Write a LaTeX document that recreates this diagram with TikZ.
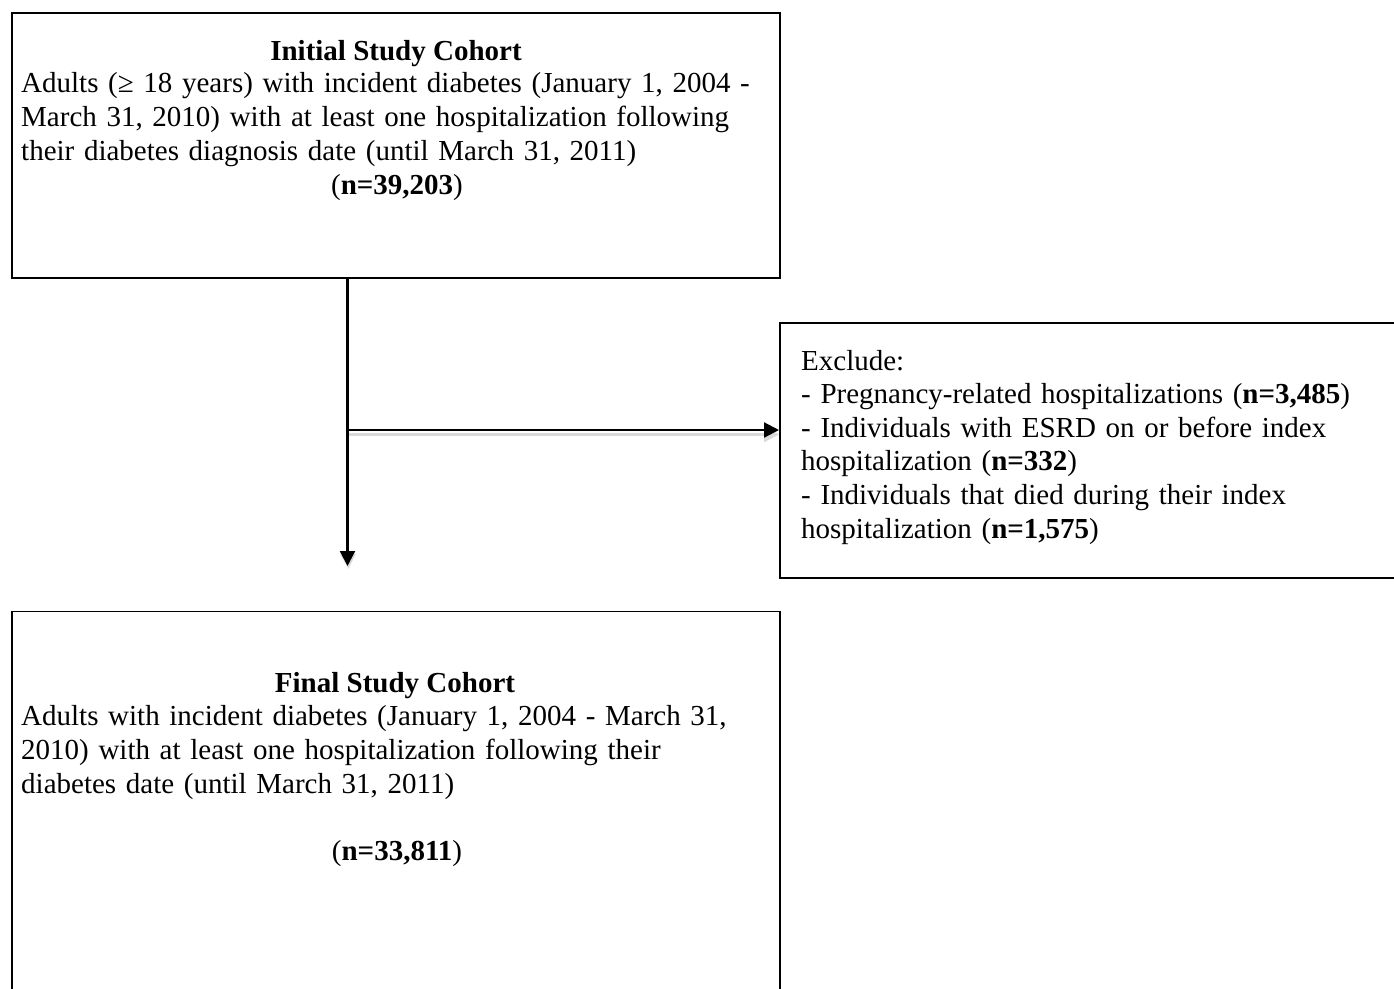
\documentclass[tikz,border=0pt]{standalone}
\usepackage{fontspec}
\setmainfont{Liberation Serif}
\usetikzlibrary{arrows.meta}
\begin{document}
\begin{tikzpicture}[x=1pt,y=-1pt,
  box/.style={draw, line width=1.6pt, inner sep=0pt, anchor=north west},
  txt/.style={inner sep=0pt, font=\fontsize{29}{34}\selectfont},
  body/.style={txt, anchor=base west, text width=1000pt, align=left},
  conn/.style={line width=2.2pt, -{Triangle[length=15pt,width=15pt]}},
  shade/.style={line width=2.2pt, draw=gray!30, fill=gray!30, -{Triangle[length=15pt,width=15pt]}}]
\useasboundingbox (0,0) rectangle (1394,988);
\clip (0,0) rectangle (1394,988);
% boxes
\node[box, minimum width=768pt, minimum height=265pt] (init) at (11,12) {};
\node[box, minimum width=660pt, minimum height=255pt] (excl) at (779,322) {};
\node[box, minimum width=768pt, minimum height=420pt] (final) at (11,610.5) {};
% texts of the initial box
\node[txt, anchor=base] (inittitle) at (396,60) {\textbf{Initial Study Cohort}};
\node[body] (initbody) at (21,92.5) {Adults (≥ 18 years) with incident diabetes (January 1, 2004 -\\
March 31, 2010) with at least one hospitalization following\\
their diabetes diagnosis date (until March 31, 2011)};
\node[txt, anchor=base] (initn) at (397,194.5) {(\textbf{n=39,203})};
% texts of the exclusion box
\node[body, font=\fontsize{29}{33.6}\selectfont] (excltext) at (801,370) {Exclude:\\
- Pregnancy-related hospitalizations (\textbf{n=3,485})\\
- Individuals with ESRD on or before index\\
hospitalization (\textbf{n=332})\\
- Individuals that died during their index\\
hospitalization (\textbf{n=1,575})};
% texts of the final box
\node[txt, anchor=base] (finaltitle) at (395,692) {\textbf{Final Study Cohort}};
\node[body] (finalbody) at (21,725) {Adults with incident diabetes (January 1, 2004 - March 31,\\
2010) with at least one hospitalization following their\\
diabetes date (until March 31, 2011)};
\node[txt, anchor=base] (finaln) at (397,860) {(\textbf{n=33,811})};
% connectors
\coordinate (top) at (347.5,0 |- init.south);
\coordinate (junction) at (347.5,430);
\coordinate (tip) at (347.5,566);
\coordinate (junctionsh) at (349,434.5);
\coordinate (tipsh) at (348.5,569);
\draw[shade] (junctionsh) -- (junctionsh -| excl.west);
\draw[shade] (347.5,540) -- (tipsh);
\draw[line width=2.2pt] (top) -- (junction);
\draw[conn] (junction) -- (tip);
\draw[conn] (junction) -- (junction -| excl.west);
\end{tikzpicture}
\end{document}
